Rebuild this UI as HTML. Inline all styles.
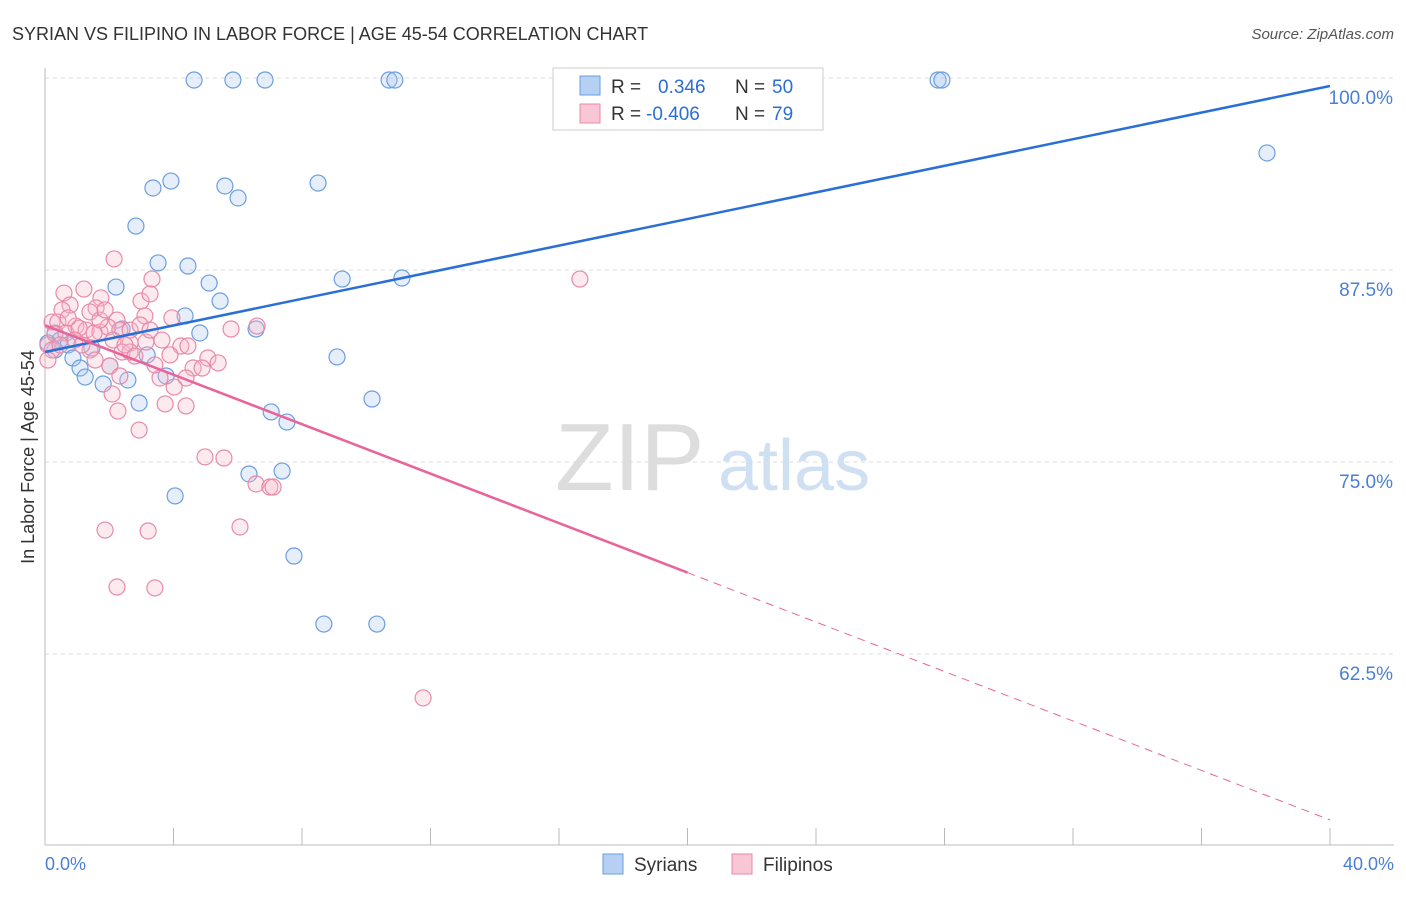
<!DOCTYPE html>
<html><head><meta charset="utf-8"><style>
body{margin:0;background:#fff;font-family:"Liberation Sans",sans-serif}
svg text{font-family:"Liberation Sans",sans-serif}
</style></head><body>
<svg width="1406" height="892" viewBox="0 0 1406 892" xmlns="http://www.w3.org/2000/svg">
<text x="12" y="40" font-size="18" fill="#333">SYRIAN VS FILIPINO IN LABOR FORCE | AGE 45-54 CORRELATION CHART</text>
<text x="1394" y="39" font-size="15" fill="#555" font-style="italic" text-anchor="end">Source: ZipAtlas.com</text>
<g id="grid"></g>
<g id="wm"><text x="555" y="490" font-size="96" fill="#ddd" font-family="Liberation Serif">ZIP</text><text x="718" y="490" font-size="72" fill="#cfe0f3">atlas</text></g>
<g id="axes"></g>
<g id="pts"></g>
<g id="lines"></g>
<text transform="translate(34,457) rotate(-90)" font-size="18" fill="#333" text-anchor="middle">In Labor Force | Age 45-54</text>
<text x="45" y="870" font-size="18" fill="#4a7fd4">0.0%</text>
<text x="1394" y="870" font-size="18" fill="#4a7fd4" text-anchor="end">40.0%</text>
<g>
<rect x="553" y="68" width="270" height="62" fill="#fff" stroke="#ccc"/>
<rect x="580" y="76" width="20" height="19" fill="#b5d0f2" stroke="#6a9ee0"/>
<rect x="580" y="104" width="20" height="19" fill="#f9c6d5" stroke="#e88aa8"/>
<text x="611" y="93" font-size="19" fill="#333">R = <tspan fill="#2a6fd6" x="658">0.346</tspan><tspan fill="#333" x="735">N = </tspan><tspan fill="#2a6fd6" x="772">50</tspan></text>
<text x="611" y="120" font-size="19" fill="#333">R = <tspan fill="#2a6fd6" x="646">-0.406</tspan><tspan fill="#333" x="735">N = </tspan><tspan fill="#2a6fd6" x="772">79</tspan></text>
</g>
<g>
<rect x="603" y="854" width="20" height="20" fill="#b5d0f2" stroke="#6a9ee0"/>
<text x="634" y="871" font-size="19" fill="#333">Syrians</text>
<rect x="732" y="854" width="20" height="20" fill="#f9c6d5" stroke="#e88aa8"/>
<text x="763" y="871" font-size="19" fill="#333">Filipinos</text>
</g>
</svg>
<script>
const yTicks=[62.5,75,87.5,100];
const yTickLabels=["62.5%","75.0%","87.5%","100.0%"];
const blueLine=[82.16,99.48];
const pinkLine=[83.9,51.7];
const bluePx=[[194,80],[233,80],[265,80],[389,80],[395,80],[938,80],[942,80],[1267,153],[153,188],[171,181],[225,186],[238,198],[318,183],[136,226],[158,263],[188,266],[209,283],[116,287],[220,301],[342,279],[402,278],[185,316],[200,333],[256,329],[122,329],[55,333],[60,340],[68,345],[55,350],[92,348],[147,355],[337,357],[73,358],[80,368],[110,366],[85,377],[103,384],[128,380],[166,376],[139,403],[372,399],[271,412],[287,422],[249,474],[282,471],[175,496],[294,556],[324,624],[377,624],[48,343]];
const pinkPx=[[114,259],[152,279],[580,279],[64,293],[84,289],[101,298],[141,301],[150,294],[70,305],[96,308],[62,310],[90,312],[117,320],[145,316],[52,322],[58,322],[76,326],[86,330],[100,332],[108,327],[120,330],[130,330],[172,318],[231,329],[257,326],[55,334],[66,333],[79,328],[94,333],[113,340],[130,343],[146,342],[162,340],[181,346],[188,346],[48,345],[52,350],[48,360],[122,352],[130,352],[135,356],[208,358],[218,363],[193,368],[202,368],[110,366],[120,376],[160,378],[186,378],[174,387],[112,394],[165,404],[186,406],[118,411],[139,430],[205,457],[224,458],[256,484],[270,487],[273,487],[105,530],[148,531],[240,527],[117,587],[155,588],[423,698],[90,350],[100,320],[75,340],[140,325],[60,345],[95,360],[155,365],[125,345],[170,355],[68,318],[82,345],[105,310],[150,330]];
const toX=p=>(p-45)/1285*40, toY=p=>100-(p-78)/192*12.5;
const syrianX=bluePx.map(d=>+toX(d[0]).toFixed(2)), syrianY=bluePx.map(d=>+toY(d[1]).toFixed(2));
const filipinoX=pinkPx.map(d=>+toX(d[0]).toFixed(2)), filipinoY=pinkPx.map(d=>+toY(d[1]).toFixed(2));
const sx=v=>45+v/40*1285, sy=v=>78+(100-v)/12.5*192;
const NS="http://www.w3.org/2000/svg";
function mk(t,a,p){const e=document.createElementNS(NS,t);for(const k in a)e.setAttribute(k,a[k]);p.appendChild(e);return e;}
const grid=document.getElementById('grid'),axes=document.getElementById('axes'),pts=document.getElementById('pts'),lines=document.getElementById('lines');
yTicks.forEach((t,i)=>{
 const l=mk('line',{x1:45,x2:1394,y1:sy(t),y2:sy(t),stroke:'#ddd','stroke-dasharray':'4,4'},grid);
 
 
 const tx=mk('text',{x:1393,y:sy(t)+26,'font-size':19,fill:'#4a7fd4','text-anchor':'end'},axes);
 tx.textContent=yTickLabels[i];
 
 
});
mk('line',{x1:45,x2:45,y1:68,y2:845,stroke:'#bbb'},axes);
mk('line',{x1:45,x2:1394,y1:845,y2:845,stroke:'#bbb'},axes);
for(let i=0;i<=10;i++){const t=mk('line',{x1:sx(i*4),x2:sx(i*4),y1:828,y2:845,stroke:'#bbb'},axes);
 
 }
function dots(X,Y,fill,stroke,name){X.forEach((x,i)=>{const c=mk('circle',{cx:sx(x),cy:sy(Y[i]),r:8,fill:fill,'fill-opacity':0.3,stroke:stroke,'stroke-width':1.2},pts);
 
 });}
dots(syrianX,syrianY,'#a9c8f0','#6a9ee0','syrian-point');
dots(filipinoX,filipinoY,'#f7b8cb','#e88aa8','filipino-point');
const bl=mk('line',{x1:sx(0),y1:sy(blueLine[0]),x2:sx(40),y2:sy(blueLine[1]),stroke:'#2a6fd6','stroke-width':2.5},lines);


const pm=pinkLine[0]+(pinkLine[1]-pinkLine[0])*0.5;
const pl=mk('line',{x1:sx(0),y1:sy(pinkLine[0]),x2:sx(20),y2:sy(pm),stroke:'#e8649a','stroke-width':2.5},lines);


const pd=mk('line',{x1:sx(20),y1:sy(pm),x2:sx(40),y2:sy(pinkLine[1]),stroke:'#e8649a','stroke-width':1,'stroke-dasharray':'8,6'},lines);


</script>
</body></html>
